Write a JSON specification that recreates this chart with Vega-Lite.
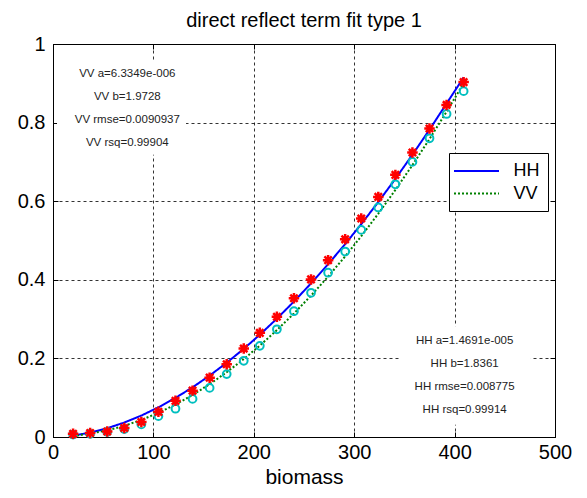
{
  "$schema": "https://vega.github.io/schema/vega-lite/v6.json",
  "width": 502,
  "height": 393,
  "autosize": {"type": "none"},
  "padding": {"left": 53, "top": 44, "right": 32, "bottom": 61},
  "background": "white",
  "title": {
    "text": "direct reflect term fit type 1",
    "font": "Liberation Sans",
    "fontSize": 20,
    "fontWeight": "normal",
    "color": "black",
    "anchor": "middle",
    "offset": 3
  },
  "config": {
    "view": {"stroke": "black", "strokeWidth": 1},
    "font": "Liberation Sans"
  },
  "datasets": {
    "points": [
      {"biomass": 20, "HH": 0.008, "VV": 0.006},
      {"biomass": 37, "HH": 0.010, "VV": 0.008},
      {"biomass": 54, "HH": 0.014, "VV": 0.013},
      {"biomass": 71, "HH": 0.023, "VV": 0.020},
      {"biomass": 88, "HH": 0.038, "VV": 0.032},
      {"biomass": 105, "HH": 0.064, "VV": 0.053},
      {"biomass": 122, "HH": 0.092, "VV": 0.072},
      {"biomass": 139, "HH": 0.118, "VV": 0.097},
      {"biomass": 156, "HH": 0.151, "VV": 0.125},
      {"biomass": 173, "HH": 0.185, "VV": 0.160},
      {"biomass": 190, "HH": 0.225, "VV": 0.194},
      {"biomass": 206, "HH": 0.265, "VV": 0.232},
      {"biomass": 223, "HH": 0.306, "VV": 0.274},
      {"biomass": 240, "HH": 0.353, "VV": 0.320},
      {"biomass": 257, "HH": 0.401, "VV": 0.367},
      {"biomass": 274, "HH": 0.450, "VV": 0.418},
      {"biomass": 291, "HH": 0.503, "VV": 0.472},
      {"biomass": 307, "HH": 0.556, "VV": 0.527},
      {"biomass": 324, "HH": 0.611, "VV": 0.584},
      {"biomass": 341, "HH": 0.667, "VV": 0.643},
      {"biomass": 358, "HH": 0.724, "VV": 0.700},
      {"biomass": 375, "HH": 0.785, "VV": 0.760},
      {"biomass": 392, "HH": 0.845, "VV": 0.822},
      {"biomass": 409, "HH": 0.903, "VV": 0.880}
    ],
    "fits": [
      {"biomass": 20, "series": "HH", "value": 0.0036},
      {"biomass": 37, "series": "HH", "value": 0.0111},
      {"biomass": 54, "series": "HH", "value": 0.0223},
      {"biomass": 71, "series": "HH", "value": 0.0368},
      {"biomass": 88, "series": "HH", "value": 0.0546},
      {"biomass": 105, "series": "HH", "value": 0.0755},
      {"biomass": 122, "series": "HH", "value": 0.0995},
      {"biomass": 139, "series": "HH", "value": 0.1264},
      {"biomass": 156, "series": "HH", "value": 0.1563},
      {"biomass": 173, "series": "HH", "value": 0.1890},
      {"biomass": 190, "series": "HH", "value": 0.2244},
      {"biomass": 206, "series": "HH", "value": 0.2603},
      {"biomass": 223, "series": "HH", "value": 0.3012},
      {"biomass": 240, "series": "HH", "value": 0.3447},
      {"biomass": 257, "series": "HH", "value": 0.3909},
      {"biomass": 274, "series": "HH", "value": 0.4396},
      {"biomass": 291, "series": "HH", "value": 0.4910},
      {"biomass": 307, "series": "HH", "value": 0.5416},
      {"biomass": 324, "series": "HH", "value": 0.5980},
      {"biomass": 341, "series": "HH", "value": 0.6569},
      {"biomass": 358, "series": "HH", "value": 0.7182},
      {"biomass": 375, "series": "HH", "value": 0.7821},
      {"biomass": 392, "series": "HH", "value": 0.8485},
      {"biomass": 409, "series": "HH", "value": 0.9150},
      {"biomass": 20, "series": "VV", "value": 0.0023},
      {"biomass": 37, "series": "VV", "value": 0.0089},
      {"biomass": 54, "series": "VV", "value": 0.0166},
      {"biomass": 71, "series": "VV", "value": 0.0285},
      {"biomass": 88, "series": "VV", "value": 0.0434},
      {"biomass": 105, "series": "VV", "value": 0.0616},
      {"biomass": 122, "series": "VV", "value": 0.0827},
      {"biomass": 139, "series": "VV", "value": 0.1070},
      {"biomass": 156, "series": "VV", "value": 0.1344},
      {"biomass": 173, "series": "VV", "value": 0.1648},
      {"biomass": 190, "series": "VV", "value": 0.1983},
      {"biomass": 206, "series": "VV", "value": 0.2326},
      {"biomass": 223, "series": "VV", "value": 0.2720},
      {"biomass": 240, "series": "VV", "value": 0.3143},
      {"biomass": 257, "series": "VV", "value": 0.3598},
      {"biomass": 274, "series": "VV", "value": 0.4082},
      {"biomass": 291, "series": "VV", "value": 0.4597},
      {"biomass": 307, "series": "VV", "value": 0.5109},
      {"biomass": 324, "series": "VV", "value": 0.5682},
      {"biomass": 341, "series": "VV", "value": 0.6287},
      {"biomass": 358, "series": "VV", "value": 0.6919},
      {"biomass": 375, "series": "VV", "value": 0.7582},
      {"biomass": 392, "series": "VV", "value": 0.8276},
      {"biomass": 409, "series": "VV", "value": 0.8998}
    ],
    "notes": [
      {"biomass": 74, "value": 0.924, "label": "VV a=6.3349e-006"},
      {"biomass": 74, "value": 0.865, "label": "VV b=1.9728"},
      {"biomass": 74, "value": 0.807, "label": "VV rmse=0.0090937"},
      {"biomass": 74, "value": 0.748, "label": "VV rsq=0.99904"},
      {"biomass": 410, "value": 0.244, "label": "HH a=1.4691e-005"},
      {"biomass": 410, "value": 0.186, "label": "HH b=1.8361"},
      {"biomass": 410, "value": 0.127, "label": "HH rmse=0.008775"},
      {"biomass": 410, "value": 0.069, "label": "HH rsq=0.99914"}
    ]
  },
  "resolve": {"axis": {"x": "independent", "y": "independent"}},
  "layer": [
    {
      "data": {"name": "fits"},
      "mark": {"type": "line", "strokeWidth": 2},
      "encoding": {
        "x": {
          "field": "biomass", "type": "quantitative",
          "scale": {"domain": [0, 500], "nice": false, "zero": false},
          "axis": {
            "values": [0, 100, 200, 300, 400, 500],
            "format": "d",
            "title": "biomass",
            "titleFont": "Liberation Sans",
            "titleFontSize": 21,
            "titleFontWeight": "normal",
            "titleColor": "black",
            "titlePadding": 4,
            "labelFont": "Liberation Sans",
            "labelFontSize": 20,
            "labelColor": "black",
            "labelPadding": 10,
            "labelFlush": false,
            "labelOverlap": false,
            "tickSize": -5,
            "tickColor": "black",
            "domainColor": "black",
            "grid": true,
            "gridColor": "black",
            "gridDash": [3, 3],
            "gridOpacity": 0.8
          }
        },
        "y": {
          "field": "value", "type": "quantitative",
          "scale": {"domain": [0, 1], "nice": false},
          "axis": {
            "values": [0, 0.2, 0.4, 0.6, 0.8, 1],
            "format": "~g",
            "title": null,
            "labelFont": "Liberation Sans",
            "labelFontSize": 20,
            "labelColor": "black",
            "labelPadding": 13,
            "labelOverlap": false,
            "labelFlush": false,
            "tickSize": -5,
            "tickColor": "black",
            "domainColor": "black",
            "grid": true,
            "gridColor": "black",
            "gridDash": [3, 3],
            "gridOpacity": 0.8
          }
        },
        "color": {
          "field": "series", "type": "nominal",
          "scale": {"domain": ["HH", "VV"], "range": ["#0000FF", "#008000"]},
          "legend": {
            "title": null,
            "orient": "none",
            "legendX": 396,
            "legendY": 109,
            "symbolType": "M-2.5,0H2.5",
            "symbolSize": 324,
            "symbolStrokeWidth": 2,
            "symbolOffset": 9.5,
            "labelOffset": 27,
            "labelFont": "Liberation Sans",
            "labelFontSize": 18,
            "labelColor": "black",
            "padding": 8,
            "rowPadding": 3.5,
            "strokeColor": "black",
            "fillColor": "white",
            "cornerRadius": 0
          }
        },
        "strokeDash": {
          "field": "series", "type": "nominal",
          "scale": {"domain": ["HH", "VV"], "range": [[1, 0], [2, 2]]},
          "legend": {
            "title": null,
            "orient": "none",
            "legendX": 396,
            "legendY": 109,
            "symbolType": "M-2.5,0H2.5",
            "symbolSize": 324,
            "symbolStrokeWidth": 2,
            "symbolOffset": 9.5,
            "labelOffset": 27,
            "labelFont": "Liberation Sans",
            "labelFontSize": 18,
            "labelColor": "black",
            "padding": 8,
            "rowPadding": 3.5,
            "strokeColor": "black",
            "fillColor": "white",
            "cornerRadius": 0
          }
        }
      }
    },
    {
      "data": {"name": "points"},
      "mark": {"type": "point", "shape": "circle", "filled": false, "stroke": "#00BFBF", "strokeWidth": 2, "size": 60, "opacity": 1},
      "encoding": {
        "x": {"field": "biomass", "type": "quantitative", "axis": null},
        "y": {"field": "VV", "type": "quantitative", "axis": null}
      }
    },
    {
      "data": {"name": "points"},
      "mark": {"type": "point", "shape": "M0,-1V1M-1,0H1M-0.7,-0.7L0.7,0.7M-0.7,0.7L0.7,-0.7", "filled": false, "stroke": "#FF0000", "strokeWidth": 2.5, "size": 110, "opacity": 1},
      "encoding": {
        "x": {"field": "biomass", "type": "quantitative", "axis": null},
        "y": {"field": "HH", "type": "quantitative", "axis": null}
      }
    },
    {
      "data": {"values": [{"block": "VV"}]},
      "mark": {"type": "rect", "fill": "white"},
      "encoding": {
        "x": {"datum": 4, "type": "quantitative", "axis": null},
        "x2": {"datum": 132.5},
        "y": {"datum": 0.954, "type": "quantitative", "axis": null},
        "y2": {"datum": 0.718}
      }
    },
    {
      "data": {"values": [{"block": "HH"}]},
      "mark": {"type": "rect", "fill": "white"},
      "encoding": {
        "x": {"datum": 344.6, "type": "quantitative", "axis": null},
        "x2": {"datum": 476},
        "y": {"datum": 0.282, "type": "quantitative", "axis": null},
        "y2": {"datum": 0.031}
      }
    },
    {
      "data": {"name": "notes"},
      "mark": {"type": "text", "font": "Liberation Sans", "fontSize": 11.5, "color": "#222222", "align": "center", "baseline": "middle"},
      "encoding": {
        "x": {"field": "biomass", "type": "quantitative", "axis": null},
        "y": {"field": "value", "type": "quantitative", "axis": null},
        "text": {"field": "label", "type": "nominal"}
      }
    },
    {
      "data": {"name": "points"},
      "mark": {"type": "point", "opacity": 0},
      "encoding": {
        "x": {
          "field": "biomass", "type": "quantitative",
          "axis": {"orient": "top", "values": [0, 100, 200, 300, 400, 500], "labels": false, "grid": false, "domain": false, "tickSize": -5, "tickColor": "black", "title": null}
        },
        "y": {
          "field": "HH", "type": "quantitative",
          "axis": {"orient": "right", "values": [0, 0.2, 0.4, 0.6, 0.8, 1], "labels": false, "grid": false, "domain": false, "tickSize": -5, "tickColor": "black", "title": null}
        }
      }
    }
  ]
}
